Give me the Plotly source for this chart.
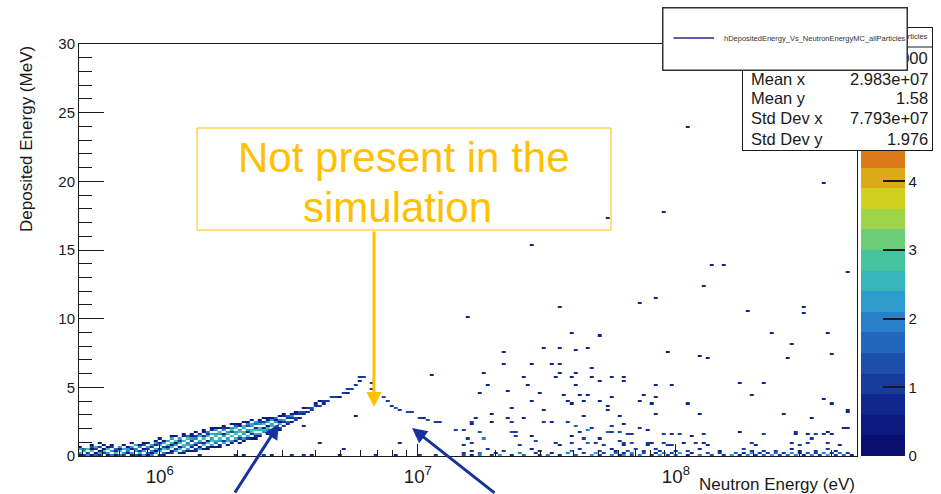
import numpy as np
import plotly.graph_objects as go

# ---------------------------------------------------------------------------
# Histogram binning: log-spaced neutron energy, linear deposited energy
# ---------------------------------------------------------------------------
LOG_E_LO = 5.6822      # log10(eV) of the first bin edge
LOG_E_STEP = 0.0155    # bin width in decades
NBX = 195
EDEP_STEP = 0.15       # MeV per bin
NBY = 200
Z_MAX = 6.0

HIST_NAME = "hDepositedEnergy_Vs_NeutronEnergyMC_allParticles"

# ---------------------------------------------------------------------------
# Recoil band below ~6 MeV: one column per energy bin,
# lowest filled deposited energy and the contents of consecutive bins above it
# ---------------------------------------------------------------------------
band_energy_eV = [
    4.90e5, 5.07e5, 5.26e5, 5.45e5, 5.65e5, 5.85e5, 6.07e5, 6.29e5, 6.52e5, 6.75e5,
    7.00e5, 7.25e5, 7.52e5, 7.79e5, 8.07e5, 8.37e5, 8.67e5, 8.99e5, 9.31e5, 9.65e5,
    1.000e6, 1.036e6, 1.074e6, 1.113e6, 1.153e6, 1.195e6, 1.239e6, 1.284e6, 1.330e6, 1.379e6,
    1.429e6, 1.481e6, 1.535e6, 1.591e6, 1.649e6, 1.709e6, 1.771e6, 1.835e6, 1.902e6, 1.971e6,
    2.043e6, 2.117e6, 2.194e6, 2.274e6, 2.357e6, 2.442e6, 2.531e6, 2.623e6, 2.718e6, 2.817e6,
    2.919e6, 3.025e6, 3.135e6, 3.249e6, 3.367e6, 3.489e6, 3.616e6, 3.747e6, 3.883e6, 4.025e6,
    4.171e6, 4.322e6, 4.479e6, 4.642e6, 4.811e6, 4.985e6, 5.166e6, 5.354e6, 5.548e6, 5.750e6,
    5.959e6, 6.175e6,
]
band_first_edep_MeV = [
    0.1, 0.1, 0.1, 0.1, 0.1, 0.1, 0.1, 0.1, 0.1, 0.1,
    0.1, 0.1, 0.1, 0.1, 0.1, 0.1, 0.1, 0.1, 0.1, 0.1,
    0.1, 0.1, 0.2, 0.2, 0.2, 0.2, 0.2, 0.2, 0.4, 0.4,
    0.4, 0.5, 0.5, 0.5, 0.7, 0.7, 0.8, 0.8, 1.0, 1.0,
    1.0, 1.1, 1.1, 1.3, 1.3, 1.4, 1.6, 1.6, 1.7, 1.9,
    1.9, 2.2, 2.3, 2.5, 2.6, 2.8, 3.1, 3.2, 3.4, 3.5,
    3.7, 3.8, 4.0, 4.1, 4.1, 4.3, 4.4, 4.6, 4.9, 5.0,
    5.5, 5.8,
]
band_weights = [
    [0.5, 2.3, 0, 2.6, 0.4],
    [1.0, 0, 2.2, 1.6, 0],
    [2.4, 1.2, 0, 2.8, 0],
    [0.4, 0, 2.7, 0.6, 1.4, 0.3],
    [1.6, 0.5, 0, 1.1, 2.5, 0],
    [0.7, 2.6, 0.4, 0, 0.9, 0, 0.6],
    [0, 1.0, 2.9, 0.5, 0, 0.4],
    [0.5, 2.4, 0, 2.6, 0.6, 0],
    [1.8, 0, 2.1, 0, 1.0, 0.5],
    [0.4, 2.7, 0.8, 1.5, 0, 0],
    [2.0, 0, 2.5, 0.5, 2.2, 0],
    [0.9, 2.3, 0, 2.6, 0, 0.4],
    [0, 0.5, 1.9, 2.2, 0.6, 0],
    [0.6, 2.2, 0, 0.7, 2.4, 0, 0.4],
    [1.3, 0, 2.3, 2.0, 0, 2.5, 0],
    [0.4, 2.6, 1.0, 0, 1.8, 0.5, 0],
    [2.1, 0, 2.4, 0.5, 0, 1.3, 0.5],
    [0.5, 1.7, 0, 1.1, 2.2, 0, 0.6, 0],
    [1.9, 0.4, 2.0, 0, 0.9, 2.3, 0, 0],
    [0, 2.3, 0.6, 2.5, 0, 0.7, 2.1, 0.5],
    [1.2, 0, 2.4, 1.0, 0, 2.2, 0.8, 0, 0.4],
    [0.4, 2.0, 0, 2.8, 1.3, 0, 2.3, 0.6, 0],
    [0.6, 0, 1.9, 0.5, 2.7, 0, 2.4, 0],
    [1.0, 0.5, 0, 2.7, 0.8, 2.5, 0, 2.1, 0.4],
    [0, 2.2, 0.9, 0, 2.3, 0.6, 2.8, 0, 0.5],
    [0.7, 0, 2.5, 0.5, 0, 2.7, 1.2, 2.4, 0],
    [0.5, 2.0, 0, 2.4, 2.8, 0, 2.5, 0, 0.7, 0.4],
    [0, 0.6, 2.2, 0, 2.6, 2.0, 0, 2.7, 1.5, 0],
    [0.4, 0, 0.8, 2.3, 0, 1.1, 2.4, 0.6, 0.5],
    [0.7, 1.2, 0, 0.5, 2.2, 0, 2.0, 0.9, 0, 0.4],
    [0, 2.3, 0.6, 0, 1.4, 2.5, 0, 2.6, 1.0, 0],
    [0.5, 0, 2.6, 0.8, 0, 2.9, 1.2, 0, 0.6, 0.4],
    [0.4, 1.1, 0, 2.7, 0.6, 0, 2.6, 0.9, 2.0, 0],
    [0, 0.6, 2.2, 0, 2.8, 2.4, 0, 2.6, 0, 0.7, 0.4],
    [0.5, 0, 1.5, 2.5, 0, 2.8, 2.2, 0, 2.4, 0.5],
    [0.4, 0.8, 0, 2.1, 2.7, 0, 2.4, 2.9, 0, 0.4],
    [0, 2.1, 0.9, 0, 2.3, 0.7, 0, 2.0, 1.1, 0.5],
    [0.4, 0, 2.5, 2.2, 0, 2.7, 2.4, 0, 0.8, 0],
    [0.5, 2.2, 0, 2.7, 0, 1.3, 2.6, 2.2, 0, 0.5],
    [0, 0.7, 2.5, 0, 2.8, 2.3, 0, 2.5, 1.6, 0.4],
    [0.6, 0, 1.2, 2.6, 0, 2.9, 2.4, 0, 0.7, 0.5],
    [0.4, 2.4, 0, 2.2, 2.7, 0, 2.5, 2.8, 0, 0.5],
    [0, 1.1, 2.6, 0, 0.7, 2.4, 0, 1.4, 2.0, 0.4],
    [0.5, 0, 0.9, 2.7, 2.5, 0, 2.3, 2.6, 0, 0.4],
    [0.4, 0.8, 2.4, 0, 2.8, 0.7, 0, 1.5, 2.2, 0],
    [0.6, 2.3, 0, 2.5, 2.7, 0, 2.2, 1.3, 0.4],
    [0, 2.1, 2.6, 0.7, 0, 2.8, 1.1, 0, 0.4],
    [0.4, 0, 2.3, 2.7, 0.6, 0, 2.2, 0.8, 0.5],
    [0.6, 2.4, 0, 2.6, 2.1, 0, 2.3, 0.4],
    [0, 2.2, 2.7, 0, 2.4, 0.7, 1.6, 0],
    [0.4, 1.2, 0, 2.6, 0.6, 2.0, 0, 0.5],
    [0.9, 0, 1.2, 2.2, 0, 0.8, 0.5],
    [0.7, 1.6, 0, 1.1, 1.7, 0],
    [0.6, 0, 1.0, 1.9, 0.8],
    [1.0, 1.4, 0, 0.7, 0.5],
    [0.6, 0, 1.0, 1.3, 0],
    [0.8, 1.4, 0, 0.5],
    [0.7, 0, 0.9],
    [1.0, 1.4, 0],
    [0, 1.2, 0.8],
    [0.9, 0, 0.5],
    [0.7, 1.0, 0],
    [1.2, 0],
    [0, 1.1],
    [0, 0.9, 0],
    [0.6, 0, 0],
    [0, 1.0, 0],
    [0.7, 0, 1.1],
    [0.9, 0, 0],
    [0, 1.0, 0],
    [0.8, 0, 1.1],
    [0.9, 0],
]

# ---------------------------------------------------------------------------
# Low deposited-energy rows (floor of the distribution)
# ---------------------------------------------------------------------------
floor_edep_MeV = [0.1, 0.2, 0.4, 0.5, 0.8]
floor_energy_eV = [
    [1.43e6, 1.99e6, 2.13e6, 2.51e6, 2.74e6, 3.19e6, 3.58e6, 3.92e6, 5.06e6, 6.93e6,
     8.31e6, 1.00e7, 1.19e7,
     1.48e7, 1.59e7, 1.71e7, 1.90e7, 2.08e7, 2.31e7, 2.60e7, 2.97e7, 3.19e7, 3.55e7,
     4.06e7, 4.64e7, 4.99e7, 5.55e7, 5.96e7, 6.34e7, 6.75e7, 7.25e7, 7.93e7, 8.67e7,
     9.31e7, 1.00e8, 1.11e8, 1.24e8, 1.38e8, 1.51e8, 1.62e8, 1.74e8, 1.87e8, 2.02e8,
     2.17e8, 2.36e8, 2.53e8, 2.72e8, 2.92e8, 3.16e8, 3.37e8, 3.61e8, 3.88e8, 4.17e8,
     4.48e8, 4.72e8],
    [1.53e7, 1.74e7, 1.97e7, 2.48e7, 2.84e7, 3.31e7, 3.75e7, 4.32e7, 4.81e7, 5.26e7,
     5.75e7, 6.18e7, 6.63e7, 7.58e7, 8.29e7, 8.99e7, 9.65e7, 1.04e8, 1.17e8, 1.31e8,
     1.46e8, 1.68e8, 1.80e8, 1.94e8, 2.12e8, 2.27e8, 2.44e8, 2.62e8, 2.82e8, 3.02e8,
     3.25e8, 3.49e8, 3.75e8, 4.02e8, 4.32e8, 4.64e8],
    [1.59e7, 2.17e7, 2.97e7, 3.88e7, 5.07e7, 5.85e7, 6.52e7, 7.38e7, 8.67e7, 1.00e8,
     1.13e8, 1.48e8, 1.94e8, 2.21e8, 2.48e8, 3.02e8, 3.46e8, 4.13e8],
    [1.87e7, 2.72e7, 4.25e7, 5.65e7, 7.00e7, 8.22e7, 1.24e8, 1.85e8, 2.77e8, 3.81e8],
    [1.53e7, 2.48e7, 3.55e7, 5.31e7, 6.34e7, 7.79e7, 9.31e7, 1.35e8, 2.06e8, 3.02e8,
     4.32e8],
]
floor_weight = [
    [0.8, 1.0, 0.7, 1.2, 0.8, 1.0, 0.9, 0.7, 0.8, 1.0,
     0.8, 1.2, 0.9,
     1.4, 0.8, 1.9, 1.0, 2.2, 0.7, 1.5, 1.1, 2.0, 0.8,
     1.6, 2.3, 1.0, 1.8, 0.7, 2.1, 1.3, 1.9, 0.9, 2.4,
     1.2, 1.7, 0.8, 2.0, 1.4, 1.0, 2.2, 0.7, 1.8, 1.1,
     1.6, 2.3, 0.9, 1.5, 2.0, 0.8, 1.9, 1.2, 2.1, 1.0,
     1.6, 0.8],
    [1.0, 1.6, 0.8, 2.0, 1.2, 0.7, 1.8, 1.1, 2.2, 0.9,
     1.5, 0.8, 2.0, 1.3, 0.7, 1.9, 1.0, 2.3, 0.8, 1.4,
     1.0, 1.7, 0.8, 2.1, 1.2, 0.9, 1.6, 1.0, 2.0, 0.8,
     1.4, 1.1, 1.8, 0.7, 1.5, 1.0],
    [0.8, 1.2, 0.7, 1.5, 1.0, 0.8, 1.3, 0.9, 1.1, 0.7,
     1.0, 0.8, 1.2, 0.9, 1.0, 0.8, 1.1, 0.7],
    [0.9, 0.8, 1.1, 0.8, 1.0, 0.9, 0.8, 1.0, 0.8, 0.9],
    [0.8, 0.9, 0.8, 1.0, 0.8, 0.8, 0.9, 0.8, 0.8, 1.0,
     0.8],
]

# ---------------------------------------------------------------------------
# Individual filled bins: high-energy tail, falling branch, stray entries
# ---------------------------------------------------------------------------
scatter_energy_eV = [
    1.10e8, 3.68e8, 5.36e7, 9.06e7, 2.74e7, 1.36e8, 1.52e8, 4.56e8, 1.29e8, 7.31e7,
    8.22e7, 3.58e7, 1.90e8, 3.08e8, 3.08e8, 1.55e7, 3.85e8, 2.36e8, 2.84e8, 3.92e7,
    5.16e7, 9.40e7, 2.13e7, 3.03e7, 3.49e7, 4.09e7, 4.52e7, 1.22e8, 1.33e8, 2.69e8,
    4.03e8, 2.19e7, 2.77e7, 3.28e7, 3.58e7, 1.14e7, 1.80e7, 2.60e7, 3.46e7, 3.58e7,
    3.95e7, 4.09e7, 4.72e7, 4.76e7, 5.65e7, 6.24e7, 6.24e7, 1.85e7, 2.67e7, 4.09e7,
    4.99e7, 1.75e7, 2.23e7, 2.94e7, 3.65e7, 4.25e7, 4.60e7, 5.55e7, 7.58e7, 8.22e7,
    8.22e7, 9.73e7, 1.74e8, 2.21e8, 1.97e8, 3.75e8, 2.79e7, 3.75e7, 3.95e7, 4.32e7,
    5.07e7, 5.50e7, 5.50e7, 7.24e7, 8.00e7, 1.12e8, 4.03e8, 4.60e8, 1.95e7, 2.31e7,
    3.05e7, 4.40e7, 5.96e7, 8.44e7, 1.24e8, 2.60e8, 3.40e8, 1.66e7, 2.21e7, 2.55e7,
    4.65e8, 4.52e8, 2.89e8, 3.37e8, 3.49e8, 3.88e8, 3.88e8, 1.94e7, 1.63e7, 1.42e7,
    1.49e7, 1.74e7, 1.81e7, 1.62e7, 2.31e7, 2.33e7, 2.41e7, 3.05e7, 3.33e7, 3.78e7,
    4.06e7, 4.25e7, 4.52e7, 4.72e7, 5.41e7, 5.65e7, 5.96e7, 6.46e7, 5.70e7, 6.24e7,
    6.81e7, 7.25e7, 7.79e7, 9.06e7, 9.73e7, 1.05e8, 1.16e8, 1.26e8, 1.77e8, 2.21e8,
    2.89e8, 3.25e8, 3.68e8, 3.97e8, 4.56e8, 1.55e7, 1.77e7, 1.62e7, 2.41e7, 2.77e7,
    2.90e7, 3.46e7, 3.99e7, 4.36e7, 3.99e7, 4.52e7, 4.94e7, 5.07e7, 6.07e7, 6.24e7,
    6.81e7, 7.72e7, 8.07e7, 8.91e7, 9.73e7, 1.06e8, 1.18e8, 1.27e8, 1.94e8, 2.84e8,
    3.30e8, 3.65e6, 5.81e6, 4.20e6, 5.12e6, 8.36e6, 6.52e6, 6.64e6, 7.25e6, 7.65e6,
    7.93e6, 8.15e6, 8.52e6, 9.15e6, 9.48e6, 1.00e7, 1.05e7, 1.09e7, 1.19e7, 1.23e7,
]
scatter_edep_MeV = [
    23.9, 19.9, 17.3, 17.72, 15.4, 13.82, 13.9, 13.4, 12.32, 11.12,
    11.5, 10.9, 10.6, 10.9, 10.42, 10.1, 8.98, 8.97, 8.2, 8.9,
    8.72, 7.6, 7.6, 7.9, 7.9, 7.7, 7.9, 7.22, 7.1, 7.1,
    7.4, 6.7, 6.7, 6.62, 6.7, 5.9, 6.02, 5.8, 5.8, 6.02,
    5.72, 6.02, 6.32, 5.8, 5.8, 5.72, 5.52, 5.12, 5.2, 5.2,
    5.52, 4.52, 4.7, 4.6, 4.4, 4.4, 4.4, 4.3, 4.4, 4.22,
    5.2, 5.2, 5.3, 5.3, 4.4, 4.1, 3.92, 3.92, 3.8, 3.92,
    3.92, 3.62, 3.32, 3.92, 3.8, 3.8, 3.8, 3.32, 3.1, 3.5,
    3.32, 2.92, 2.92, 3.1, 3.1, 3.1, 2.8, 2.8, 2.8, 2.8,
    3.2, 2.02, 1.7, 1.3, 1.52, 1.7, 1.0, 2.5, 2.32, 1.9,
    1.9, 1.7, 1.3, 2.42, 2.42, 1.68, 1.75, 2.42, 2.48, 2.48,
    2.11, 1.75, 1.9, 2.04, 1.68, 1.75, 1.68, 1.53, 2.11, 2.26,
    1.6, 2.04, 1.9, 1.53, 1.53, 1.53, 1.38, 1.53, 1.68, 1.53,
    1.6, 1.53, 1.53, 1.53, 2.04, 1.31, 1.24, 1.02, 1.38, 1.38,
    1.16, 0.95, 1.38, 1.31, 1.02, 0.95, 1.02, 1.31, 1.16, 0.95,
    0.95, 1.02, 0.95, 0.95, 0.87, 1.02, 1.02, 1.02, 1.02, 0.95,
    1.02, 2.11, 2.99, 1.02, 0.58, 0.95, 5.39, 4.81, 4.30, 3.93,
    3.71, 3.52, 3.37, 3.22, 3.22, 2.84, 2.77, 2.62, 2.48, 2.42,
]
scatter_weight = [
    0.8, 0.8, 0.7, 0.8, 0.8, 0.8, 0.7, 0.8, 0.8, 0.8,
    0.7, 0.8, 0.8, 0.7, 0.7, 0.8, 0.8, 0.8, 0.7, 0.8,
    0.8, 0.8, 0.8, 0.8, 0.7, 0.8, 0.8, 0.8, 0.7, 0.8,
    0.8, 0.8, 0.8, 0.7, 0.8, 0.8, 0.8, 0.8, 0.7, 0.8,
    0.8, 0.8, 0.8, 0.8, 0.8, 0.8, 0.7, 0.8, 0.8, 0.8,
    0.8, 0.8, 0.8, 0.8, 0.8, 0.7, 0.8, 0.8, 0.8, 0.8,
    0.8, 0.7, 0.8, 0.8, 0.8, 0.8, 0.8, 0.8, 0.8, 0.7,
    0.8, 0.8, 0.8, 0.8, 0.8, 0.8, 0.8, 0.8, 0.8, 0.8,
    0.8, 0.8, 0.8, 0.8, 0.8, 0.8, 0.8, 0.8, 0.8, 0.8,
    0.8, 0.8, 1.0, 1.0, 1.0, 0.8, 1.0, 0.8, 0.8, 0.9,
    1.2, 1.4, 1.0, 1.0, 1.0, 1.4, 1.0, 1.0, 0.8, 1.0,
    1.6, 1.0, 1.8, 1.0, 1.6, 1.0, 1.4, 1.0, 1.0, 0.8,
    1.2, 1.0, 0.8, 1.0, 0.8, 1.2, 0.8, 1.0, 0.8, 1.0,
    0.8, 0.8, 1.0, 0.8, 0.8, 1.0, 0.8, 1.2, 1.0, 0.8,
    1.4, 1.0, 0.8, 1.2, 1.0, 1.6, 1.0, 0.8, 1.2, 1.0,
    1.4, 1.0, 0.8, 1.2, 1.0, 0.8, 1.0, 0.8, 1.0, 0.8,
    1.0, 0.8, 0.8, 0.8, 0.8, 0.8, 1.0, 1.2, 1.4, 1.2,
    1.0, 1.6, 1.0, 1.4, 1.0, 1.2, 0.8, 1.4, 1.0, 1.2,
]

# Statistics box entries
stats_labels = ["Entries", "Mean x", "Mean y", "Std Dev x", "Std Dev y"]
stats_values = ["2000", "2.983e+07", "1.58", "7.793e+07", "1.976"]

# Colour palette of the z axis (20 contour levels between 0 and Z_MAX)
palette = [
    "#0a0f70", "#0c1a80", "#10288e", "#163a9e", "#1c4eae",
    "#2266be", "#2a80c8", "#2e9ccc", "#38b4bc", "#46c4a0",
    "#6ccc78", "#a0d448", "#d0d020", "#dcaa18", "#dc7a1a",
    "#d85a1a", "#cc3e18", "#b82a16", "#a01c14", "#841010",
]

# ---------------------------------------------------------------------------
# Fill the 2D histogram
# ---------------------------------------------------------------------------
assert len(scatter_energy_eV) == len(scatter_edep_MeV) == len(scatter_weight)

z = np.full((NBY, NBX), np.nan)


def x_bin(energy):
    return int(np.floor((np.log10(energy) - LOG_E_LO) / LOG_E_STEP))


def y_bin(edep):
    return int(np.floor(edep / EDEP_STEP))


def fill_bin(ix, iy, w):
    if 0 <= ix < NBX and 0 <= iy < NBY and w > 0:
        z[iy, ix] = (0.0 if np.isnan(z[iy, ix]) else z[iy, ix]) + w


for e, lo, ws in zip(band_energy_eV, band_first_edep_MeV, band_weights):
    iy0 = y_bin(lo)
    for k, w in enumerate(ws):
        fill_bin(x_bin(e), iy0 + k, w)

for edep, es, ws in zip(floor_edep_MeV, floor_energy_eV, floor_weight):
    for e, w in zip(es, ws):
        fill_bin(x_bin(e), y_bin(edep), w)

for e, d, w in zip(scatter_energy_eV, scatter_edep_MeV, scatter_weight):
    fill_bin(x_bin(e), y_bin(d), w)

x_edges = 10 ** (LOG_E_LO + LOG_E_STEP * np.arange(NBX + 1))
y_edges = EDEP_STEP * np.arange(NBY + 1)
z_cells = [[None if np.isnan(v) else float(v) for v in row] for row in z]

colorscale = []
for i, c in enumerate(palette):
    colorscale.append([i / len(palette), c])
    colorscale.append([(i + 1) / len(palette), c])

FONT = "Liberation Sans, Arial, sans-serif"
INK = "#1a1a1a"

# page geometry helpers (pixel -> paper fraction)
W, H = 941, 494
ML, MR, MT, MB = 79, 84, 44, 38
PW, PH = W - ML - MR, H - MT - MB


def fx(px):
    return (px - ML) / PW


def fy(py):
    return (H - MB - py) / PH


fig = go.Figure()
fig.add_trace(go.Heatmap(
    x=x_edges, y=y_edges, z=z_cells,
    zmin=0, zmax=Z_MAX, colorscale=colorscale,
    hoverinfo="skip",
    colorbar=dict(
        x=fx(861), xanchor="left", y=0, yanchor="bottom",
        len=1, lenmode="fraction", thickness=44, thicknessmode="pixels",
        xpad=0, ypad=0, outlinewidth=0,
        ticks="inside", ticklen=22, tickwidth=1.5, tickcolor=INK,
        tickvals=[0, 1, 2, 3, 4, 5, 6],
        tickfont=dict(family=FONT, size=15, color=INK),
    ),
))

anns = []
# statistics box
anns.append(dict(x=fx(742), y=fy(27), xanchor="left", yanchor="top", text=" ",
                 width=189, height=122, bgcolor="white", bordercolor=INK,
                 borderwidth=1, borderpad=0, showarrow=False))
anns.append(dict(x=fx(933), y=fy(47), ax=-191, ay=0, text="", showarrow=True,
                 arrowhead=0, arrowwidth=1, arrowcolor=INK, standoff=0))
anns.append(dict(x=fx(837), y=fy(37), text=HIST_NAME, showarrow=False,
                 font=dict(family=FONT, size=7.5, color="#333")))
row_y = [58, 78.5, 98, 118, 138.5]
for lab, val, ry in zip(stats_labels, stats_values, row_y):
    anns.append(dict(x=fx(749), y=fy(ry), xanchor="left", text=lab, showarrow=False,
                     font=dict(family=FONT, size=16.5, color=INK)))
    anns.append(dict(x=fx(930), y=fy(ry), xanchor="right", text=val, showarrow=False,
                     font=dict(family=FONT, size=16.5, color=INK)))
# legend box
anns.append(dict(x=fx(662), y=fy(7), xanchor="left", yanchor="top", text=" ",
                 width=243, height=61, bgcolor="white", bordercolor="#333",
                 borderwidth=1.5, borderpad=0, showarrow=False))
anns.append(dict(x=fx(714), y=fy(38), ax=-42, ay=0, text="", showarrow=True,
                 arrowhead=0, arrowwidth=1.5, arrowcolor="#2a2a8a", standoff=0))
anns.append(dict(x=fx(722), y=fy(38), xanchor="left", text=HIST_NAME, showarrow=False,
                 font=dict(family=FONT, size=7.5, color="#333")))

# "Not present in the simulation" call-out
GOLD = "#FFC000"
anns.append(dict(x=fx(404), y=fy(157), text="Not present in the", showarrow=False,
                 font=dict(family=FONT, size=42, color=GOLD)))
anns.append(dict(x=fx(397), y=fy(207), text="simulation", showarrow=False,
                 font=dict(family=FONT, size=42, color=GOLD)))
anns.append(dict(x=fx(374), y=fy(407), ax=0, ay=-177, text="", showarrow=True,
                 arrowhead=2, arrowsize=1, arrowwidth=3, arrowcolor=GOLD, standoff=0))
# pointers to the two kinematic branches
BLUE = "#15329e"
anns.append(dict(x=fx(279), y=fy(424), ax=-45, ay=70, text="", showarrow=True,
                 arrowhead=2, arrowsize=1, arrowwidth=3, arrowcolor=BLUE, standoff=0))
anns.append(dict(x=fx(412), y=fy(428), ax=84, ay=66, text="", showarrow=True,
                 arrowhead=2, arrowsize=1, arrowwidth=3, arrowcolor=BLUE, standoff=0))

# axis titles (ROOT style: right / top aligned)
anns.append(dict(x=fx(857), y=fy(484), xanchor="right", text="Neutron Energy (eV)",
                 showarrow=False, font=dict(family=FONT, size=17, color=INK)))
anns.append(dict(x=fx(26), y=fy(44), xanchor="center", yanchor="top", textangle=-90,
                 text="Deposited Energy (MeV)", showarrow=False,
                 font=dict(family=FONT, size=17, color=INK)))

for a in anns:
    a.setdefault("xref", "paper")
    a.setdefault("yref", "paper")
    a.setdefault("xanchor", "center")
    a.setdefault("yanchor", "middle")

shapes = [dict(type="rect", xref="paper", yref="paper",
               x0=fx(197), x1=fx(611), y0=fy(230), y1=fy(128),
               line=dict(color=GOLD, width=1), fillcolor="rgba(0,0,0,0)", layer="above")]

fig.update_layout(
    width=W, height=H,
    margin=dict(l=ML, r=MR, t=MT, b=MB, pad=0, autoexpand=False),
    paper_bgcolor="white", plot_bgcolor="white",
    showlegend=False,
    font=dict(family=FONT, color=INK),
    annotations=anns, shapes=shapes,
    xaxis=dict(
        type="log", range=[5.6872, 8.7016], dtick=1, exponentformat="power",
        showgrid=False, zeroline=False,
        showline=True, mirror=True, linecolor=INK, linewidth=1,
        ticks="inside", ticklen=12, tickwidth=1, tickcolor=INK,
        ticklabelstandoff=4,
        tickfont=dict(family=FONT, size=15, color=INK),
        minor=dict(ticks="inside", ticklen=6, tickwidth=1, tickcolor=INK,
                   dtick="D1", showgrid=False),
    ),
    yaxis=dict(
        range=[0, 30], dtick=5, showgrid=False, zeroline=False,
        showline=True, mirror=True, linecolor=INK, linewidth=1,
        ticks="inside", ticklen=25, tickwidth=1, tickcolor=INK,
        tickfont=dict(family=FONT, size=15, color=INK),
        minor=dict(ticks="inside", ticklen=13, tickwidth=1, tickcolor=INK,
                   dtick=1, showgrid=False),
    ),
)

fig.write_html("out.html")
